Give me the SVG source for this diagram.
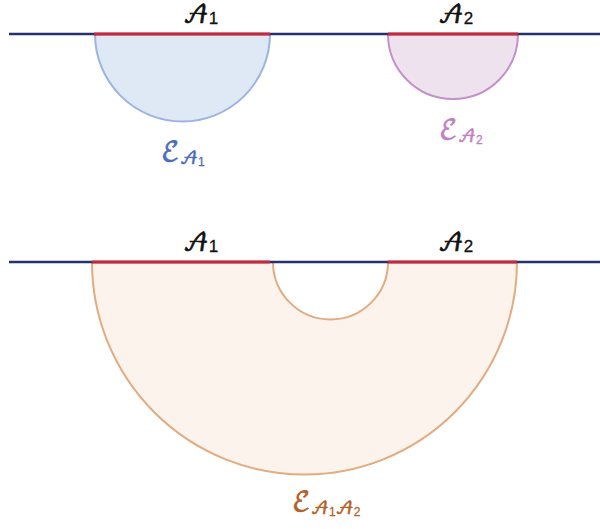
<svg xmlns="http://www.w3.org/2000/svg" width="600" height="529" viewBox="0 0 600 529">
<style>
.base{stroke:#27306f;stroke-width:2.5;fill:none}
.seg{stroke:#c8283a;stroke-width:2.8;fill:none}
.lbl{font-family:"DejaVu Math TeX Gyre","DejaVu Serif",serif;font-size:24px;fill:#111;stroke:#111;stroke-width:0.7}
.sub{font-family:"Liberation Sans",sans-serif;stroke-width:0.3}
.e{font-family:"DejaVu Math TeX Gyre","DejaVu Serif",serif;font-size:27px;stroke-width:0.6}
</style>
<g id="top">
  <g id="E_A1">
    <path d="M95,34 A87.5,87.5 0 0 0 270,34 Z" fill="#dfe9f5" stroke="#9db4e0" stroke-width="2"/>
  </g>
  <g id="E_A2">
    <path d="M388,34 A65,65 0 0 0 518,34 Z" fill="#efe2ef" stroke="#c390c9" stroke-width="2"/>
  </g>
</g>
<g id="bottom">
  <g id="E_A1A2">
    <path d="M92,262 A212.5,212.5 0 0 0 517,262 L388,262 A57.5,57.5 0 0 1 273,262 Z" fill="#fbf3ec" stroke="#e3ab80" stroke-width="2"/>
  </g>
</g>
<g id="connectors">
  <line class="base" x1="9" y1="34" x2="600" y2="34"/>
  <line class="seg" x1="94" y1="34" x2="270" y2="34"/>
  <line class="seg" x1="388" y1="34" x2="518" y2="34"/>
  <line class="base" x1="9" y1="262" x2="600" y2="262"/>
  <line class="seg" x1="92" y1="262" x2="270" y2="262"/>
  <line class="seg" x1="388" y1="262" x2="517" y2="262"/>
</g>
<g id="labels">
  <text class="lbl" x="183" y="23">𝒜<tspan class="sub" font-size="17" dy="1">1</tspan></text>
  <text class="lbl" x="438" y="23">𝒜<tspan class="sub" font-size="17" dy="1">2</tspan></text>
  <text class="lbl" x="183" y="251">𝒜<tspan class="sub" font-size="17" dy="1">1</tspan></text>
  <text class="lbl" x="438" y="251">𝒜<tspan class="sub" font-size="17" dy="1">2</tspan></text>
  <text class="e" x="161" y="161" fill="#4a6cc0" stroke="#4a6cc0">ℰ<tspan font-size="17" dy="3">𝒜</tspan><tspan class="sub" font-size="12" dy="2">1</tspan></text>
  <text class="e" x="439" y="139" fill="#c27fc5" stroke="#c27fc5">ℰ<tspan font-size="17" dy="3">𝒜</tspan><tspan class="sub" font-size="12" dy="2">2</tspan></text>
  <text class="e" x="292" y="511" fill="#b55f28" stroke="#b55f28">ℰ<tspan font-size="17" dy="3">𝒜</tspan><tspan class="sub" font-size="12" dy="2">1</tspan><tspan font-size="17" dy="-2">𝒜</tspan><tspan class="sub" font-size="12" dy="2">2</tspan></text>
</g>
</svg>
